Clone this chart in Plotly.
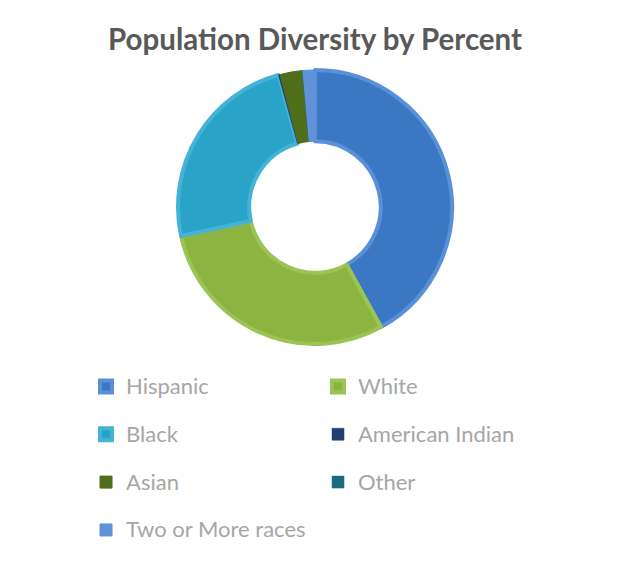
import plotly.graph_objects as go

labels = ["Hispanic", "White", "Black", "American Indian", "Asian", "Other", "Two or More races"]
values = [42.0, 29.6, 24.1, 0.2, 2.6, 0.1, 1.4]
fill_colors = ["#3b78c4", "#8cb441", "#2aa3c8", "#1f3f73", "#4e6e1b", "#1a6b80", "#5f92d8"]
line_colors = ["#5a90d8", "#9cc455", "#45b3d6", "#1f3f73", "#4e6e1b", "#1a6b80", "#5f92d8"]
line_widths = [4, 4, 4, 0.5, 1, 0.5, 1]

title_text = "Population Diversity by Percent"

legend_text = [
    f'<span style="font-size:22px;baseline-shift:6.5px">{t}</span>' for t in labels
]

fig = go.Figure(
    go.Pie(
        labels=legend_text,
        values=values,
        hole=0.48,
        sort=False,
        direction="clockwise",
        rotation=0,
        textinfo="none",
        hoverinfo="label+percent",
        marker=dict(colors=fill_colors, line=dict(color=line_colors, width=line_widths)),
        domain=dict(x=[0.2782, 0.7267], y=[0.3989, 0.8891]),
    )
)

fig.update_layout(
    width=611,
    height=559,
    margin=dict(l=0, r=0, t=0, b=0),
    paper_bgcolor="white",
    plot_bgcolor="white",
    title=dict(
        text=f"<b>{title_text}</b>",
        x=0.5025,
        xanchor="center",
        y=0.9428,
        yanchor="middle",
        font=dict(family="Lato", size=29.5, color="#595959"),
    ),
    showlegend=True,
    legend=dict(
        orientation="h",
        x=0.1277,
        xanchor="left",
        y=0.3748,
        yanchor="top",
        entrywidth=187,
        font=dict(family="Lato", size=34.5, color="#a6a6a6"),
        bgcolor="rgba(0,0,0,0)",
    ),
)

fig.write_html("out.html")
